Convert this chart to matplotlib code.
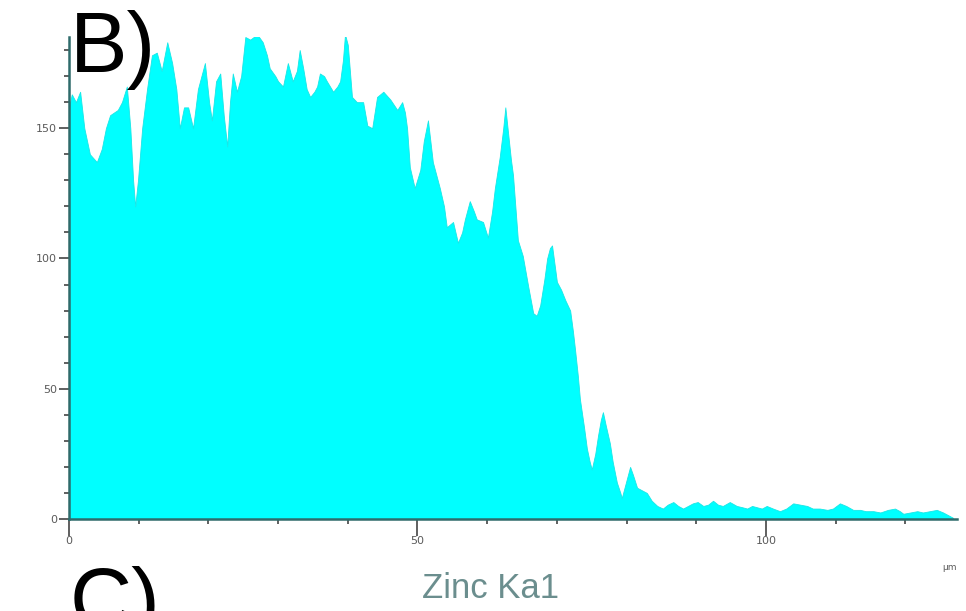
import matplotlib.pyplot as plt
import matplotlib.ticker as ticker
import numpy as np

# line scan: position along the scan (um) and Zn Ka1 counts
position_um = [
    0.0, 0.4, 1.0, 1.6, 2.2, 3.0, 4.0, 4.7, 5.3, 5.9, 7.0, 7.6, 8.3, 8.8, 9.2, 9.5, 9.9,
    10.5, 11.2, 11.9, 12.6, 13.3, 14.1, 14.8, 15.4, 15.9, 16.5, 17.1, 17.8, 18.5, 19.5,
    20.1, 20.5, 21.1, 21.7, 22.2, 22.7, 23.1, 23.5, 24.1, 24.7, 25.3, 26.0, 27.0, 27.8,
    28.4, 28.8, 29.6, 30.0, 30.7, 31.4, 32.1, 32.7, 33.1, 33.6, 34.1, 34.6, 35.2, 35.6,
    36.0, 36.6, 37.0, 37.9, 38.5, 38.9, 39.3, 39.6, 40.0, 40.6, 41.3, 42.2, 42.8, 43.5,
    44.2, 45.1, 46.1, 47.1, 47.8, 48.2, 48.5, 48.9, 49.6, 50.4, 50.9, 51.5, 52.2, 53.2,
    53.8, 54.2, 55.1, 55.8, 56.4, 56.8, 57.5, 58.1, 58.5, 59.4, 60.1, 60.7, 61.1, 61.8,
    62.3, 62.6, 63.0, 63.4, 63.7, 64.4, 65.1, 65.9, 66.6, 67.1, 67.6, 68.2, 68.6, 69.0,
    69.3, 70.0, 70.6, 71.2, 71.9, 72.3, 72.6, 73.0, 73.3, 73.9, 74.3, 74.7, 75.0, 75.5,
    75.9, 76.3, 76.6, 77.0, 77.6, 78.0, 78.6, 79.1, 79.3, 79.9, 80.5, 80.9, 81.5, 82.2,
    82.9, 83.6, 84.4, 85.2, 85.9, 86.7, 87.4, 88.1, 88.8, 89.5, 90.2, 91.0, 91.7, 92.4,
    93.1, 93.8, 94.8, 95.8, 96.6, 97.3, 98.0, 98.7, 99.4, 100.1, 101.0, 102.0, 102.9,
    103.9, 104.9, 105.9, 106.7, 107.7, 108.8, 109.6, 110.6, 111.5, 112.5, 113.5, 114.3,
    115.4, 116.4, 117.5, 118.5, 119.2, 119.7, 120.7, 121.7, 122.5, 123.5, 124.5, 125.4,
    126.1, 126.8,
]
zn_counts = [
    158, 163, 160, 164, 150, 140, 137, 142, 150, 155, 157, 160, 166, 150, 130, 120, 130,
    150, 165, 178, 179, 172, 183, 175, 165, 150, 158, 158, 150, 165, 175,
    160, 153, 168, 171, 155, 143, 160, 171, 164, 170, 185, 184, 186, 183,
    178, 173, 170, 168, 166, 175, 168, 172, 180, 173, 165, 162, 164, 166,
    171, 170, 168, 164, 166, 168, 176, 186, 182, 162, 160, 160, 151, 150,
    162, 164, 161, 157, 160, 156, 150, 135, 127, 134, 145, 153, 137, 127,
    120, 112, 114, 106, 110, 115, 122, 118, 115, 114, 108, 118, 127, 139,
    150, 158, 148, 138, 132, 107, 101, 89, 79, 78, 82, 92, 100, 104,
    105, 91, 88, 84, 80, 72, 65, 55, 46, 35, 27, 22, 19, 25,
    32, 38, 41, 36, 29, 22, 14, 10, 8, 14, 20, 17, 12, 11,
    10, 7, 5, 4, 5.5, 6.5, 5, 4, 5, 6, 6.5, 5, 5.5, 7,
    5.5, 5, 6.5, 5, 4.5, 4, 5, 4.5, 4, 5, 4, 3, 4,
    6, 5.5, 5, 4, 4, 3.5, 4, 6, 5, 3.5, 3.5, 3,
    3, 2.5, 3.5, 4, 3, 2, 2.5, 3, 2.5, 3, 3.5, 2.5,
    1.5, 0.5,
]

x_ticks = [0, 50, 100]
y_ticks = [0, 50, 100, 150]

axis_col = '#2e6b6b'
label_col = '#5a5a5a'

fig = plt.figure(figsize=(9.66, 6.11), dpi=100)
ax = fig.add_axes([0.0714, 0.1506, 0.9193, 0.7888])

ax.fill_between(position_um, zn_counts, 0, color='#00ffff', linewidth=0.6,
                edgecolor='#19e6e6')

ax.set_xlim(0, 127.4)
ax.set_ylim(0, 185)

ax.xaxis.set_major_locator(ticker.FixedLocator(x_ticks))
ax.xaxis.set_minor_locator(ticker.MultipleLocator(10))
ax.yaxis.set_major_locator(ticker.FixedLocator(y_ticks))
ax.yaxis.set_minor_locator(ticker.MultipleLocator(10))

for side in ['top', 'right']:
    ax.spines[side].set_visible(False)
for side in ['left', 'bottom']:
    ax.spines[side].set_color(axis_col)
    ax.spines[side].set_linewidth(1.8)

ax.tick_params(which='major', direction='out', length=7, width=1.2, color='#444444',
               labelsize=8, labelcolor=label_col, pad=1.5)
ax.tick_params(which='minor', direction='out', length=3.5, width=1.2, color='#444444')
ax.tick_params(axis='x', which='major', length=12, pad=0)

ax.text(1.0, -0.10, 'µm', transform=ax.transAxes, ha='right', va='center',
        fontsize=6.5, color=label_col)

# panel labels and element name
fig.text(70 / 966, 1 - 10 / 611, 'B)', ha='left', va='top', fontsize=62,
         family='Liberation Sans', color='black')
fig.text(70 / 966, 1 - 566 / 611, 'C)', ha='left', va='top', fontsize=62,
         family='Liberation Sans', color='black')
fig.text(491 / 966, 1 - 589 / 611, 'Zinc Ka1', ha='center', va='center', fontsize=25,
         family='Liberation Sans', color='#6b8e8e')

fig.savefig('out.png', dpi=100)
plt.close(fig)
